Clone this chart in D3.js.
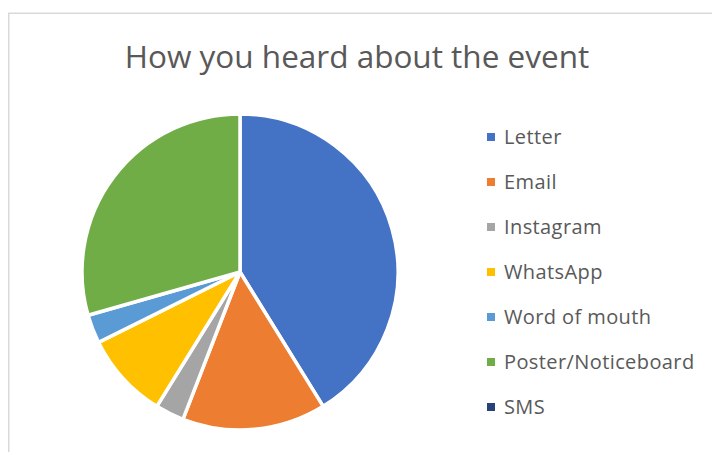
<!DOCTYPE html>
<html>
<head>
<meta charset="utf-8">
<script src="https://cdn.jsdelivr.net/npm/d3@7"></script>
<style>
  body { margin: 0; background: #fff; }
  svg { display: block; }
</style>
</head>
<body>
<svg id="canvas" width="712" height="452"></svg>
<script>
var categories = ["Letter", "Email", "Instagram", "WhatsApp", "Word of mouth", "Poster/Noticeboard", "SMS"];
var counts = [14, 5, 1, 3, 1, 10, 0];
var colours = ["#4472C4", "#ED7D31", "#A5A5A5", "#FFC000", "#5B9BD5", "#70AD47", "#264478"];
var title = "How you heard about the event";

var svg = d3.select("#canvas"),
    cx = 240,
    cy = 272,
    radius = 158,
    fontFamily = "'Open Sans', sans-serif";

var data = categories.map(function(c, i) { return {name: c, value: counts[i]}; });

// chart frame
svg.append("rect")
  .attr("x", 8.75)
  .attr("y", 13.25)
  .attr("width", 720)
  .attr("height", 460)
  .style("fill", "#fff")
  .style("stroke", "#D9D9D9")
  .style("stroke-width", 1.5);

svg.append("text")
  .attr("x", 357)
  .attr("y", 68)
  .attr("text-anchor", "middle")
  .style("font-family", fontFamily)
  .style("font-size", "31.5px")
  .style("fill", "#595959")
  .text(title);

var pie = d3.pie()
  .sort(null)
  .value(function(d) { return d.value; });

var arc = d3.arc()
  .innerRadius(0)
  .outerRadius(radius);

var color = d3.scaleOrdinal()
  .domain(categories)
  .range(colours);

svg.append("g")
  .attr("transform", "translate(" + cx + "," + cy + ")")
  .selectAll("path")
  .data(pie(data).filter(function(d) { return d.data.value > 0; }))
  .enter()
  .append("path")
  .attr("d", arc)
  .style("fill", function(d) { return color(d.data.name); })
  .style("stroke", "#fff")
  .style("stroke-width", 3.5)
  .style("stroke-linejoin", "round");

/*
  Legend
*/
var legendY = d3.scalePoint()
  .domain(categories)
  .range([137, 407]);

var item = svg.append("g")
  .selectAll("g")
  .data(categories)
  .enter()
  .append("g")
  .attr("transform", function(d) { return "translate(487," + legendY(d) + ")"; });

item.append("rect")
  .attr("x", 0)
  .attr("y", -4)
  .attr("width", 8)
  .attr("height", 8)
  .style("fill", function(d) { return color(d); });

item.append("text")
  .attr("x", 17)
  .attr("y", 7)
  .style("font-family", fontFamily)
  .style("font-size", "20px")
  .style("letter-spacing", "0.4px")
  .style("fill", "#595959")
  .text(function(d) { return d; });
</script>
</body>
</html>
